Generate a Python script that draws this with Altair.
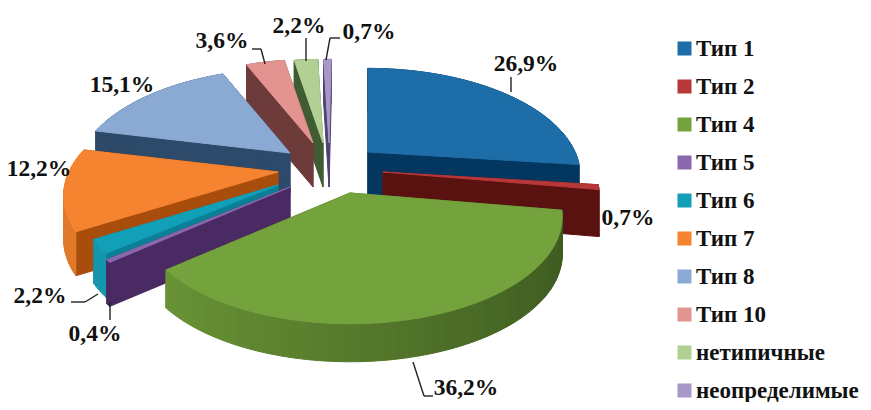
import math
import altair as alt

# Data
categories = ["Тип 1", "Тип 2", "Тип 4", "Тип 5", "Тип 6", "Тип 7", "Тип 8", "Тип 10", "нетипичные", "неопределимые"]
shares = [26.9, 0.7, 36.2, 0.4, 2.2, 12.2, 15.1, 3.6, 2.2, 0.7]
share_labels = ["26,9%", "0,7%", "36,2%", "0,4%", "2,2%", "12,2%", "15,1%", "3,6%", "2,2%", "0,7%"]

# Styling of the 3D look
top_colors = ["#1d6ea8", "#b8383a", "#74a23c", "#8a68ae", "#12a0b8", "#f58330", "#8aa9d3", "#e49490", "#b2d094", "#a898c8"]
radial_colors = ["#03375f", "#5a1210", "#4d6b25", "#4a2a62", "#0a7f96", "#a84d0b", "#2e4a6a", "#6e3b3b", "#3f5c33", "#4e4270"]
outer_left = ["#03375f", "#5a1210", "#6f9a38", "#4a2a62", "#1596ad", "#e07a2a", "#2e4a6a", "#6e3b3b", "#3f5c33", "#4e4270"]
outer_right = ["#03375f", "#5a1210", "#3d5a20", "#4a2a62", "#1596ad", "#d9701f", "#2e4a6a", "#6e3b3b", "#3f5c33", "#4e4270"]
apexes = [(368, 152), (383, 172), (350, 193), (290, 187), (278, 185), (278, 172), (290, 153), (313, 143), (323, 143), (329, 143)]
radii = [1, 1.02, 1, 0.98, 0.92, 1.01, 1.01, 1, 1, 1]
depths = [43, 47, 38, 44, 44, 44, 40, 44, 44, 44]
paint_order = [0, 9, 8, 7, 6, 5, 4, 3, 1, 2]
RX, RY, PERSP = 207.0, 102.0, 0.22
M = 8


def project(i, deg, dz=0.0):
    t = math.radians(deg)
    u, v = math.sin(t), math.cos(t)
    s = radii[i] / (1 + PERSP * v)
    ax, ay = apexes[i]
    return [ax + u * RX * s - M, ay - v * RY * s + dz - M]


def hex_mix(a, b, f):
    ca = [int(a[k:k + 2], 16) for k in (1, 3, 5)]
    cb = [int(b[k:k + 2], 16) for k in (1, 3, 5)]
    return "#" + "".join(f"{round(x + (y - x) * f):02x}" for x, y in zip(ca, cb))


def feature(name, ring):
    ring = ring + [ring[0]]
    return {"type": "Feature", "geometry": {"type": "Polygon", "coordinates": [ring]}, "properties": {"part": name}}


features = []
domain = list(categories)
colors = list(top_colors)
starts, cum = [], 0.0
for v in shares:
    starts.append(cum)
    cum += v
scale_total = 360.0 / 100.0

for i in paint_order:
    a0 = starts[i] * scale_total
    a1 = (starts[i] + shares[i]) * scale_total
    d = depths[i]
    ax, ay = apexes[i][0] - M, apexes[i][1] - M
    for k, a in enumerate((a0, a1)):
        name = f"r{i}_{k}"
        domain.append(name)
        colors.append(radial_colors[i])
        p = project(i, a)
        features.append(feature(name, [[ax, ay], p, [p[0], p[1] + d], [ax, ay + d]]))
    n = max(1, int((a1 - a0) / 1.5))
    for k in range(n):
        b0 = a0 + (a1 - a0) * k / n
        b1 = a0 + (a1 - a0) * (k + 1) / n
        f = (math.sin(math.radians((b0 + b1) / 2)) + 1) / 2
        name = f"o{i}_{k}"
        domain.append(name)
        colors.append(hex_mix(outer_left[i], outer_right[i], f))
        features.append(feature(name, [project(i, b0), project(i, b1), project(i, b1, d), project(i, b0, d)]))
    n = max(2, int((a1 - a0) / 2))
    ring = [[ax, ay]] + [project(i, a0 + (a1 - a0) * k / n) for k in range(n + 1)]
    features.append(feature(categories[i], ring))

scale = alt.Scale(domain=domain, range=colors)
pie = alt.Chart(alt.Data(values=features)).mark_geoshape(strokeWidth=1).encode(
    color=alt.Color(
        "properties.part:N",
        scale=scale,
        legend=alt.Legend(
            values=categories, title=None, orient="none", legendX=665, legendY=28,
            symbolType="square", symbolSize=196, symbolStrokeWidth=0,
            labelFont="Liberation Serif", labelFontWeight="bold", labelFontSize=23,
            labelColor="#111111", labelLimit=220, labelOffset=0, rowPadding=13,
            clipHeight=25,
        ),
    ),
    stroke=alt.Stroke("properties.part:N", scale=scale, legend=None),
).project(type="identity", scale=1, translate=[0, 0])

label_spots = [(526, 64), (628, 218), (466, 388), (95, 334), (40, 296), (39, 169), (122, 85), (222, 41), (299, 26), (369, 32)]
layers = [pie]
for text, (x, y) in zip(share_labels, label_spots):
    layers.append(
        alt.Chart(alt.Data(values=[{"t": text}])).mark_text(
            font="Liberation Serif", fontWeight="bold", fontSize=23.5, color="#111111",
            align="center", baseline="middle",
        ).encode(x=alt.value(x - M), y=alt.value(y - M), text="t:N")
    )

leaders = [
    [(511, 77), (511, 92)],
    [(413, 362), (424, 396), (433, 396)],
    [(110, 302), (110, 320)],
    [(98, 294), (85, 302), (71, 302)],
    [(265, 64), (261, 49), (252, 49)],
    [(306, 38), (306, 61)],
    [(326, 60), (330, 38), (340, 38)],
]
for path in leaders:
    for (x0, y0), (x1, y1) in zip(path, path[1:]):
        layers.append(
            alt.Chart(alt.Data(values=[{}])).mark_rule(color="#222222", strokeWidth=1.4).encode(
                x=alt.value(x0 - M), x2=alt.value(x1 - M), y=alt.value(y0 - M), y2=alt.value(y1 - M)
            )
        )

chart = alt.layer(*layers).properties(
    width=855, height=394, padding=0, autosize=alt.AutoSizeParams(type="none")
).configure_view(stroke=None)

chart.save("out.html", embed_options={"renderer": "svg", "actions": False})
